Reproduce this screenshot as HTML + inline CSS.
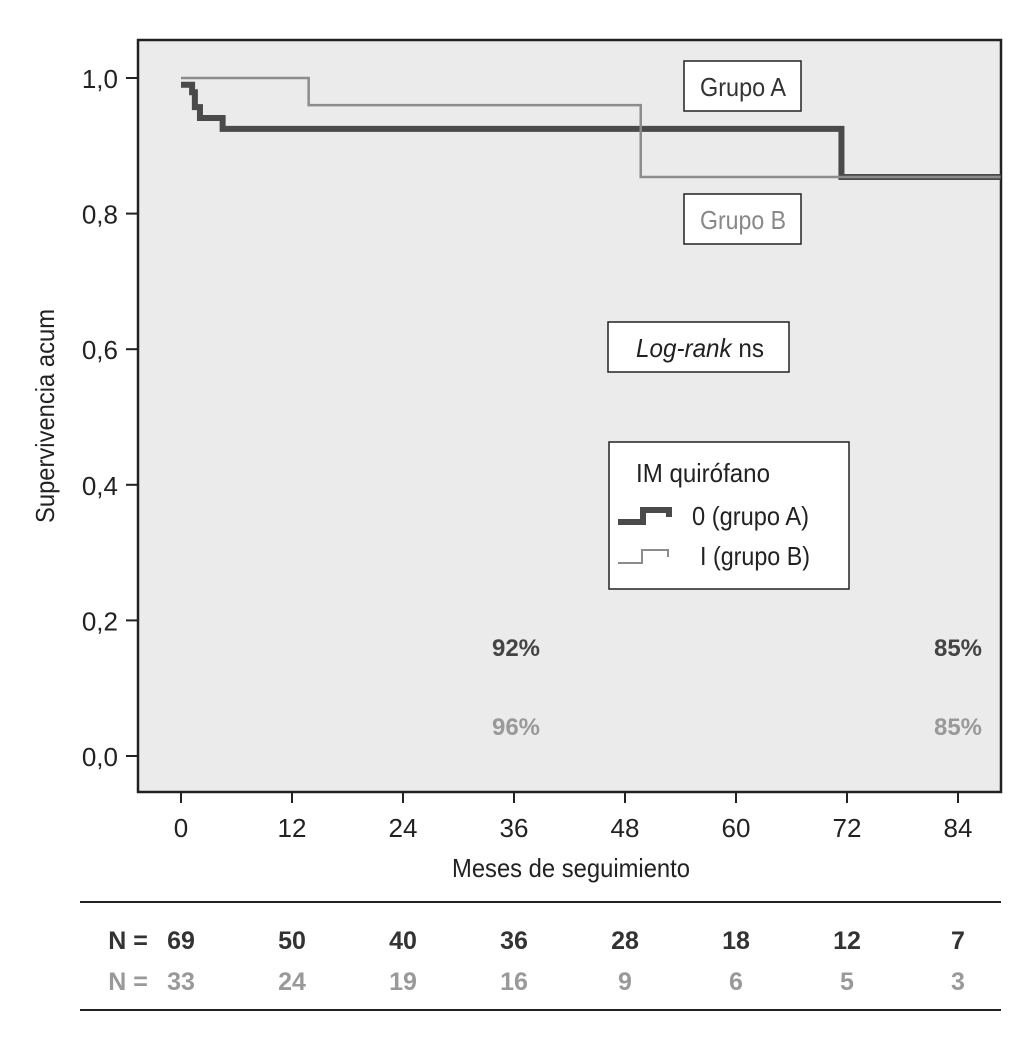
<!DOCTYPE html>
<html><head><meta charset="utf-8"><style>
body{margin:0;background:#fff;}
svg{display:block;font-family:"Liberation Sans Narrow","Liberation Sans",sans-serif;}
</style></head><body>
<svg id="chart" width="1020" height="1037">
<rect x="138" y="40" width="863" height="752" fill="#ebebeb" stroke="#222" stroke-width="2.5"/>
<rect x="684" y="61" width="117" height="50" fill="#fff" stroke="#222" stroke-width="1.5"/>
<text x="700" y="96" font-size="26" fill="#333" textLength="86" lengthAdjust="spacingAndGlyphs">Grupo A</text>
<rect x="684" y="194" width="117" height="50" fill="#fff" stroke="#222" stroke-width="1.5"/>
<text x="700" y="229" font-size="26" fill="#888" textLength="86" lengthAdjust="spacingAndGlyphs">Grupo B</text>
<rect x="608" y="322" width="181" height="50" fill="#fff" stroke="#222" stroke-width="1.5"/>
<text x="636" y="357" font-size="26" fill="#222" textLength="128" lengthAdjust="spacingAndGlyphs"><tspan font-style="italic">Log-rank</tspan> ns</text>
<g>
<rect x="609" y="442" width="240" height="147" fill="#fff" stroke="#222" stroke-width="1.5"/>
<text x="636" y="482" font-size="26" fill="#222" textLength="134" lengthAdjust="spacingAndGlyphs">IM quirófano</text>
<polyline points="618,522 643,522 643,510 669,510 669,517" fill="none" stroke="#4a4a4a" stroke-width="6"/>
<text x="692" y="525" font-size="26" fill="#222" textLength="117" lengthAdjust="spacingAndGlyphs">0 (grupo A)</text>
<polyline points="618,563 642,563 642,550 668,550 668,557" fill="none" stroke="#8c8c8c" stroke-width="2"/>
<text x="700" y="565" font-size="26" fill="#222" textLength="110" lengthAdjust="spacingAndGlyphs">I (grupo B)</text>
</g>
<text x="516" y="656" text-anchor="middle" font-size="24" font-weight="bold" fill="#444">92%</text>
<text x="958" y="656" text-anchor="middle" font-size="24" font-weight="bold" fill="#444">85%</text>
<text x="516" y="735" text-anchor="middle" font-size="24" font-weight="bold" fill="#999">96%</text>
<text x="958" y="735" text-anchor="middle" font-size="24" font-weight="bold" fill="#999">85%</text>
<text transform="translate(54,416) rotate(-90)" text-anchor="middle" font-size="26" fill="#222" textLength="214" lengthAdjust="spacingAndGlyphs">Supervivencia acum</text>
<text x="452" y="877" font-size="26" fill="#222" textLength="238" lengthAdjust="spacingAndGlyphs">Meses de seguimiento</text>
<line x1="80" y1="902" x2="1001" y2="902" stroke="#222" stroke-width="2"/>
<line x1="80" y1="1010" x2="1001" y2="1010" stroke="#222" stroke-width="2"/>
<text x="128" y="949" text-anchor="middle" font-size="25" font-weight="bold" fill="#333">N =</text>
<text x="128" y="990" text-anchor="middle" font-size="25" font-weight="bold" fill="#999">N =</text>
<g id="dyn"></g>
</svg>
<script>
const xTicks=[0,12,24,36,48,60,72,84];
const yTicks=[0,0.2,0.4,0.6,0.8,1.0];
const yTickLabels=["0,0","0,2","0,4","0,6","0,8","1,0"];
const timesA=[0,1.2,1.5,2.05,4.5,71.4,88.6];
const survA=[0.99,0.979,0.957,0.941,0.925,0.854,0.854];
const timesB=[0,13.8,49.7,88.6];
const survB=[1.0,0.96,0.854,0.854];
const atRiskA=[69,50,40,36,28,18,12,7];
const atRiskB=[33,24,19,16,9,6,5,3];
const X=t=>181+t*(958-181)/84;
const Y=v=>756-v*678;
const ns="http://www.w3.org/2000/svg";
const g=document.getElementById('dyn');
function mk(tag,attrs){const e=document.createElementNS(ns,tag);for(const k in attrs)e.setAttribute(k,attrs[k]);g.appendChild(e);return e;}
xTicks.forEach((t,i)=>{
 const l=mk('line',{x1:X(t),x2:X(t),y1:792,y2:803,stroke:'#222','stroke-width':2});
 
 
 const tx=mk('text',{x:X(t),y:837,'text-anchor':'middle','font-size':26,fill:'#222'});tx.textContent=t;
 
 
 const a=mk('text',{x:X(t),y:949,'text-anchor':'middle','font-size':25,'font-weight':'bold',fill:'#333'});a.textContent=atRiskA[i];
 
 
 const b=mk('text',{x:X(t),y:990,'text-anchor':'middle','font-size':25,'font-weight':'bold',fill:'#999'});b.textContent=atRiskB[i];
 
 
});
yTicks.forEach((v,i)=>{
 const l=mk('line',{x1:126,x2:138,y1:Y(v),y2:Y(v),stroke:'#222','stroke-width':2});
 
 
 const tx=mk('text',{x:118,y:Y(v)+10,'text-anchor':'end','font-size':26,fill:'#222'});tx.textContent=yTickLabels[i];
 
 
});
function steps(ts,ss){let p=[];for(let i=0;i<ts.length;i++){if(i>0)p.push(X(ts[i])+','+Y(ss[i-1]));p.push(X(ts[i])+','+Y(ss[i]));}return p.join(' ');}
const la=mk('polyline',{points:steps(timesA,survA),fill:'none',stroke:'#4a4a4a','stroke-width':6});


const lb=mk('polyline',{points:steps(timesB,survB),fill:'none',stroke:'#8c8c8c','stroke-width':2.5});


</script>
</body></html>
